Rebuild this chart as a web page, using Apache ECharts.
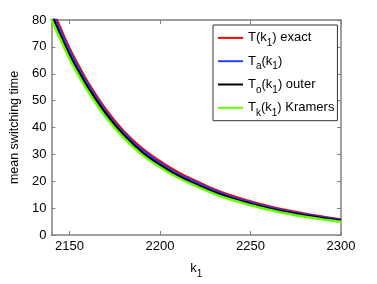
<!DOCTYPE html>
<html>
<head>
<meta charset="utf-8">
<script src="https://cdn.jsdelivr.net/npm/echarts@6/dist/echarts.min.js"></script>
<style>
  html, body { margin: 0; padding: 0; background: #fff; }
  #main { width: 377px; height: 284px; }
</style>
</head>
<body>
<div id="main"></div>
<script>
// k1 values (x axis)
var k1 = [2140, 2145, 2150, 2155, 2160, 2170, 2180, 2190, 2200, 2210, 2220, 2230, 2240, 2250, 2260, 2270, 2280, 2290, 2300];

// mean switching time
var exact   = [85.0, 77.0, 69.5, 63.0, 57.0, 46.8, 38.6, 32.3, 27.4, 23.3, 20.0, 17.0, 14.5, 12.5, 10.7, 9.2, 7.9, 6.8, 5.8];
var approx  = [83.7, 75.8, 68.5, 62.1, 56.1, 46.0, 37.9, 31.6, 26.8, 22.7, 19.5, 16.5, 14.0, 12.1, 10.3, 8.85, 7.6, 6.55, 5.57];
var outer   = [82.0, 74.3, 67.0, 60.8, 55.0, 45.1, 37.2, 30.8, 26.0, 22.0, 18.8, 15.9, 13.5, 11.6, 9.9, 8.5, 7.25, 6.2, 5.3];
var kramers = [80.3, 72.8, 65.6, 59.4, 53.7, 43.9, 36.1, 29.9, 25.2, 21.3, 18.2, 15.3, 13.0, 11.1, 9.4, 8.0, 6.8, 5.8, 4.9];

var xTicks = [2150, 2200, 2250, 2300];

var names = ['T(k1) exact', 'Ta(k1)', 'To(k1) outer', 'Tk(k1) Kramers'];
var richNames = {
  'T(k1) exact': '{n|T(k}{s|1}{n|) exact}',
  'Ta(k1)': '{n|T}{s|a}{n|(k}{s|1}{n|)}',
  'To(k1) outer': '{n|T}{s|o}{n|(k}{s|1}{n|) outer}',
  'Tk(k1) Kramers': '{n|T}{s|k}{n|(k}{s|1}{n|) Kramers}'
};
var colors = ['#ff0000', '#2040ff', '#000000', '#66ff00'];

function pairs(ys) {
  return k1.map(function (k, i) { return [k, ys[i]]; });
}

var font = 'Liberation Sans, Arial, Helvetica, sans-serif';
var axisGray = '#808080';

var myChart = echarts.init(document.getElementById('main'));

function axisCommon() {
  return {
    axisLine: { show: true, onZero: false, lineStyle: { color: axisGray, width: 1.5 } },
    axisTick: { show: true, inside: true, length: 4, lineStyle: { color: axisGray, width: 1 } },
    splitLine: { show: false }
  };
}

var xBottom = Object.assign(axisCommon(), {
  type: 'value', min: 2140, max: 2300, position: 'bottom',
  interval: 10,
  axisTick: { show: true, inside: true, length: 4, lineStyle: { color: axisGray },
    customValues: xTicks },
  axisLabel: { color: '#000', fontSize: 13, fontFamily: font, margin: 5, customValues: xTicks,
    formatter: function (v) { return String(v); } },
  name: '{n|k}{s|1}',
  nameLocation: 'middle',
  nameGap: 22,
  nameTextStyle: {
    rich: {
      n: { fontSize: 13, fontFamily: font, color: '#000' },
      s: { fontSize: 10, fontFamily: font, color: '#000', padding: [12, 0, 0, 0] }
    }
  }
});
var xTop = Object.assign(axisCommon(), {
  type: 'value', min: 2140, max: 2300, position: 'top',
  axisTick: { show: true, inside: true, length: 4, lineStyle: { color: axisGray },
    customValues: xTicks },
  axisLabel: { show: false }
});
var yLeft = Object.assign(axisCommon(), {
  type: 'value', min: 0, max: 80, interval: 10, position: 'left',
  axisLabel: { color: '#000', fontSize: 13, fontFamily: font, margin: 5 },
  name: 'mean switching time',
  nameLocation: 'middle',
  nameGap: 27,
  nameTextStyle: { color: '#000', fontSize: 12.5, fontFamily: font }
});
var yRight = Object.assign(axisCommon(), {
  type: 'value', min: 0, max: 80, interval: 10, position: 'right',
  axisLabel: { show: false }
});

myChart.setOption({
  animation: false,
  backgroundColor: '#fff',
  grid: { left: 49, right: 36, top: 20, bottom: 36 },
  xAxis: [xBottom, xTop],
  yAxis: [yLeft, yRight],
  legend: {
    orient: 'vertical',
    left: 213,
    top: 25,
    data: names,
    icon: 'rect',
    itemWidth: 25,
    itemHeight: 2,
    itemGap: 2.3,
    padding: [2.4, 3, 2.4, 5],
    borderColor: '#333',
    borderWidth: 1,
    backgroundColor: '#fff',
    formatter: function (name) { return richNames[name]; },
    textStyle: {
      rich: {
        n: { fontSize: 13, fontFamily: font, color: '#000', lineHeight: 20 },
        s: { fontSize: 10, fontFamily: font, color: '#000', padding: [11, 0, 0, 0], lineHeight: 20 }
      }
    }
  },
  series: [
    { name: names[0], data: pairs(exact) },
    { name: names[1], data: pairs(approx) },
    { name: names[2], data: pairs(outer) },
    { name: names[3], data: pairs(kramers) }
  ].map(function (s, i) {
    return Object.assign(s, {
      type: 'line',
      smooth: 0.4,
      showSymbol: false,
      clip: true,
      color: colors[i],
      lineStyle: { color: colors[i], width: 2.5 }
    });
  })
});
</script>
</body>
</html>
